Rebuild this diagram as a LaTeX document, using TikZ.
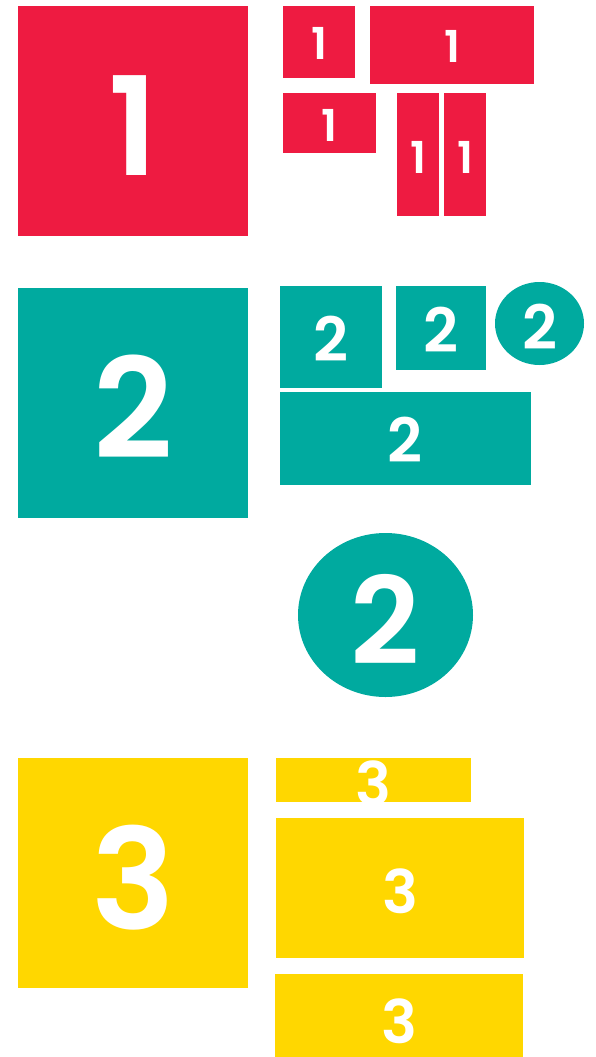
\documentclass[tikz,border=0pt]{standalone}
\usepackage{fontspec}
\setmainfont{Poppins}[BoldFont={Poppins SemiBold}]
\usetikzlibrary{shapes.geometric}
\definecolor{cred}{HTML}{EE1B41}
\definecolor{cteal}{HTML}{00AA9F}
\definecolor{cyel}{HTML}{FFD700}
\tikzset{
  tile/.style={rectangle, inner sep=0pt, outer sep=0pt, draw=none, anchor=north west},
  oval/.style={ellipse, inner sep=0pt, outer sep=0pt, draw=none},
  dig/.style={text=white, inner sep=0pt, outer sep=0pt, font=\bfseries\fontsize{#1}{#1}\selectfont},
}
\begin{document}
\begin{tikzpicture}[x=1pt,y=-1pt]
\useasboundingbox (0,0) rectangle (595,1057);
% red group
\node[tile, fill=cred, minimum width=230, minimum height=230] (r1) at (18,6) {};
\node[tile, fill=cred, minimum width=72, minimum height=72] (r2) at (283,6) {};
\node[tile, fill=cred, minimum width=164, minimum height=78] (r3) at (370,6) {};
\node[tile, fill=cred, minimum width=93, minimum height=60] (r4) at (283,93) {};
\node[tile, fill=cred, minimum width=42, minimum height=123] (r5) at (397,93) {};
\node[tile, fill=cred, minimum width=42, minimum height=123] (r6) at (444,93) {};
\node[dig=137] (r1t) at ([yshift=-5pt]r1.center) {1};
\node[dig=44] (r2t) at ([yshift=-1pt]r2.center) {1};
\node[dig=44] (r3t) at ([yshift=-1pt]r3.center) {1};
\node[dig=44] (r4t) at ([yshift=-2pt]r4.center) {1};
\node[dig=44] (r5t) at ([yshift=-2.5pt]r5.center) {1};
\node[dig=44] (r6t) at ([yshift=-2.5pt]r6.center) {1};
% teal group
\node[tile, fill=cteal, minimum width=230, minimum height=230] (t1) at (18,288) {};
\node[tile, fill=cteal, minimum width=102, minimum height=102] (t2) at (280,286) {};
\node[tile, fill=cteal, minimum width=90, minimum height=84] (t3) at (396,286) {};
\node[oval, fill=cteal, minimum width=89, minimum height=83] (t4) at (539.5,323.5) {};
\node[tile, fill=cteal, minimum width=251, minimum height=93] (t5) at (280,392) {};
\node[oval, fill=cteal, minimum width=175, minimum height=164] (t6) at (385.5,615) {};
\node[dig=139] (t1t) at ([yshift=-4pt]t1.center) {2};
\node[dig=61] (t2t) at ([yshift=-2pt]t2.center) {2};
\node[dig=61] (t3t) at ([yshift=-2pt]t3.center) {2};
\node[dig=61] (t4t) at ([yshift=-3pt]t4.center) {2};
\node[dig=61] (t5t) at ([yshift=-1.5pt]t5.center) {2};
\node[dig=121] (t6t) at ([yshift=-4pt]t6.center) {2};
% yellow group
\node[tile, fill=cyel, minimum width=230, minimum height=230] (y1) at (18,758) {};
\node[tile, fill=cyel, minimum width=195, minimum height=44] (y2) at (276,758) {};
\node[tile, fill=cyel, minimum width=248, minimum height=140] (y3) at (276,818) {};
\node[tile, fill=cyel, minimum width=248, minimum height=83] (y4) at (275,974) {};
\node[dig=140] (y1t) at ([yshift=-5pt]y1.center) {3};
\node[dig=60] (y2t) at ([yshift=-3.7pt]y2.center) {3};
\node[dig=60] (y3t) at ([yshift=-3pt]y3.center) {3};
\node[dig=60] (y4t) at ([yshift=-5.3pt]y4.center) {3};
\end{tikzpicture}
\end{document}
